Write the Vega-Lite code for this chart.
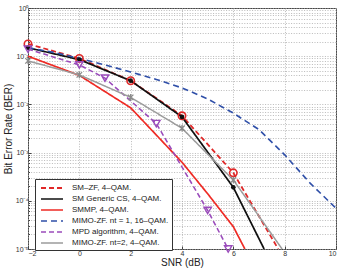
{
  "$schema": "https://vega.github.io/schema/vega-lite/v6.json",
  "autosize": "none",
  "width": 308,
  "height": 241,
  "padding": {"left": 28, "top": 8, "right": 4, "bottom": 22},
  "background": "white",
  "config": {
    "font": "Liberation Sans",
    "view": {"stroke": "#444", "strokeWidth": 1}
  },
  "data": {
    "values": [
      {"s": "SM–ZF, 4–QAM.", "snr": -2, "ber": 0.18},
      {"s": "SM–ZF, 4–QAM.", "snr": 0, "ber": 0.09},
      {"s": "SM–ZF, 4–QAM.", "snr": 2, "ber": 0.031},
      {"s": "SM–ZF, 4–QAM.", "snr": 4, "ber": 0.0058},
      {"s": "SM–ZF, 4–QAM.", "snr": 6, "ber": 0.00038},
      {"s": "SM–ZF, 4–QAM.", "snr": 7.75, "ber": 0.00001},
      {"s": "SM Generic CS, 4–QAM.", "snr": -2, "ber": 0.15},
      {"s": "SM Generic CS, 4–QAM.", "snr": 0, "ber": 0.085},
      {"s": "SM Generic CS, 4–QAM.", "snr": 2, "ber": 0.031},
      {"s": "SM Generic CS, 4–QAM.", "snr": 4, "ber": 0.0055},
      {"s": "SM Generic CS, 4–QAM.", "snr": 6, "ber": 0.00019},
      {"s": "SM Generic CS, 4–QAM.", "snr": 7.2, "ber": 0.00001},
      {"s": "SMMP, 4–QAM.", "snr": -2, "ber": 0.1},
      {"s": "SMMP, 4–QAM.", "snr": 0, "ber": 0.04},
      {"s": "SMMP, 4–QAM.", "snr": 2, "ber": 0.0085},
      {"s": "SMMP, 4–QAM.", "snr": 4, "ber": 0.00063},
      {"s": "SMMP, 4–QAM.", "snr": 5, "ber": 0.00014},
      {"s": "SMMP, 4–QAM.", "snr": 6, "ber": 0.000029},
      {"s": "SMMP, 4–QAM.", "snr": 6.45, "ber": 0.00001},
      {"s": "MIMO-ZF. nt = 1, 16–QAM.", "snr": -2, "ber": 0.15},
      {"s": "MIMO-ZF. nt = 1, 16–QAM.", "snr": -1, "ber": 0.12},
      {"s": "MIMO-ZF. nt = 1, 16–QAM.", "snr": 0, "ber": 0.09},
      {"s": "MIMO-ZF. nt = 1, 16–QAM.", "snr": 1, "ber": 0.066},
      {"s": "MIMO-ZF. nt = 1, 16–QAM.", "snr": 2, "ber": 0.047},
      {"s": "MIMO-ZF. nt = 1, 16–QAM.", "snr": 3, "ber": 0.033},
      {"s": "MIMO-ZF. nt = 1, 16–QAM.", "snr": 4, "ber": 0.022},
      {"s": "MIMO-ZF. nt = 1, 16–QAM.", "snr": 5, "ber": 0.013},
      {"s": "MIMO-ZF. nt = 1, 16–QAM.", "snr": 6, "ber": 0.0066},
      {"s": "MIMO-ZF. nt = 1, 16–QAM.", "snr": 7, "ber": 0.003},
      {"s": "MIMO-ZF. nt = 1, 16–QAM.", "snr": 8, "ber": 0.0009},
      {"s": "MIMO-ZF. nt = 1, 16–QAM.", "snr": 9, "ber": 0.00023},
      {"s": "MIMO-ZF. nt = 1, 16–QAM.", "snr": 10, "ber": 0.00007},
      {"s": "MPD algorithm, 4–QAM.", "snr": -2, "ber": 0.14},
      {"s": "MPD algorithm, 4–QAM.", "snr": 0, "ber": 0.066},
      {"s": "MPD algorithm, 4–QAM.", "snr": 1, "ber": 0.035},
      {"s": "MPD algorithm, 4–QAM.", "snr": 3, "ber": 0.004},
      {"s": "MPD algorithm, 4–QAM.", "snr": 5, "ber": 0.000063},
      {"s": "MPD algorithm, 4–QAM.", "snr": 5.8, "ber": 0.00001},
      {"s": "MIMO-ZF. nt=2, 4–QAM.", "snr": -2, "ber": 0.08},
      {"s": "MIMO-ZF. nt=2, 4–QAM.", "snr": 0, "ber": 0.041},
      {"s": "MIMO-ZF. nt=2, 4–QAM.", "snr": 2, "ber": 0.014},
      {"s": "MIMO-ZF. nt=2, 4–QAM.", "snr": 4, "ber": 0.0032},
      {"s": "MIMO-ZF. nt=2, 4–QAM.", "snr": 6, "ber": 0.00027},
      {"s": "MIMO-ZF. nt=2, 4–QAM.", "snr": 7.9, "ber": 0.00001}
    ]
  },
  "encoding": {
    "x": {
      "field": "snr", "type": "quantitative",
      "scale": {"domain": [-2, 10], "nice": false, "zero": false},
      "axis": {
        "title": "SNR (dB)", "titleFontSize": 10, "titleFontWeight": "normal", "titlePadding": 1, "titleColor": "#222",
        "values": [-2, 0, 2, 4, 6, 8, 10],
        "labelFontSize": 7, "labelColor": "#333", "labelPadding": 3,
        "domain": false, "tickSize": -3, "tickColor": "#444",
        "grid": true, "gridColor": "#a8a8a8", "gridDash": [1, 1.6], "gridWidth": 0.8
      }
    },
    "y": {
      "field": "ber", "type": "quantitative",
      "scale": {"type": "log", "domain": [0.00001, 1], "nice": false},
      "axis": {
        "title": "Bit Error Rate (BER)", "titleFontSize": 10, "titleFontWeight": "normal", "titlePadding": 2, "titleColor": "#222",
        "values": [0.00001, 0.00002, 0.00003, 0.00004, 0.00005, 0.00006, 0.00007, 0.00008, 0.00009,
                   0.0001, 0.0002, 0.0003, 0.0004, 0.0005, 0.0006, 0.0007, 0.0008, 0.0009,
                   0.001, 0.002, 0.003, 0.004, 0.005, 0.006, 0.007, 0.008, 0.009,
                   0.01, 0.02, 0.03, 0.04, 0.05, 0.06, 0.07, 0.08, 0.09,
                   0.1, 0.2, 0.3, 0.4, 0.5, 0.6, 0.7, 0.8, 0.9, 1],
        "labelExpr": "abs(log(datum.value)/LN10 - round(log(datum.value)/LN10)) < 0.001 ? '10' + (round(log(datum.value)/LN10) == 0 ? '⁰' : '⁻' + ['⁰','¹','²','³','⁴','⁵'][-round(log(datum.value)/LN10)]) : ''",
        "labelOverlap": false, "labelBound": false,
        "labelFontSize": 7, "labelColor": "#333", "labelPadding": 3,
        "domain": false,
        "tickSize": {"condition": {"test": "abs(log(datum.value)/LN10 - round(log(datum.value)/LN10)) < 0.001", "value": -3}, "value": -1.5},
        "tickColor": "#444",
        "grid": true, "gridColor": "#a8a8a8", "gridDash": [1, 1.6], "gridWidth": 0.8
      }
    }
  },
  "layer": [
    {
      "mark": {"type": "line", "clip": true},
      "encoding": {
        "color": {
          "field": "s", "type": "nominal",
          "scale": {
            "domain": ["SM–ZF, 4–QAM.", "SM Generic CS, 4–QAM.", "SMMP, 4–QAM.", "MIMO-ZF. nt = 1, 16–QAM.", "MPD algorithm, 4–QAM.", "MIMO-ZF. nt=2, 4–QAM."],
            "range": ["#e02828", "#111111", "#ee2a24", "#2f4fa8", "#9a4bbb", "#9c9c9c"]
          },
          "legend": {
            "title": null, "orient": "none", "legendX": 7, "legendY": 171,
            "symbolType": "M-2.2,0L2.2,0", "symbolSize": 100, "symbolStrokeWidth": 2,
            "symbolOffset": 8,
            "labelFontSize": 8, "labelColor": "#222", "labelOffset": 14,
            "rowPadding": 1, "padding": 3,
            "fillColor": "white", "strokeColor": "#333"
          }
        },
        "strokeDash": {
          "field": "s", "type": "nominal",
          "scale": {
            "domain": ["SM–ZF, 4–QAM.", "SM Generic CS, 4–QAM.", "SMMP, 4–QAM.", "MIMO-ZF. nt = 1, 16–QAM.", "MPD algorithm, 4–QAM.", "MIMO-ZF. nt=2, 4–QAM."],
            "range": [[5, 3], [1, 0], [1, 0], [6, 4], [5, 3], [1, 0]]
          }
        },
        "strokeWidth": {
          "field": "s", "type": "nominal",
          "scale": {
            "domain": ["SM–ZF, 4–QAM.", "SM Generic CS, 4–QAM.", "SMMP, 4–QAM.", "MIMO-ZF. nt = 1, 16–QAM.", "MPD algorithm, 4–QAM.", "MIMO-ZF. nt=2, 4–QAM."],
            "range": [1.8, 1.5, 2.2, 1.8, 1.5, 2.2]
          }
        }
      }
    },
    {
      "transform": [{"filter": "datum.s == 'SM–ZF, 4–QAM.' && datum.snr % 2 == 0"}],
      "mark": {"type": "point", "shape": "circle", "filled": false, "color": "#e02828", "size": 55, "strokeWidth": 1.6, "opacity": 1}
    },
    {
      "transform": [{"filter": "datum.s == 'SM Generic CS, 4–QAM.' && datum.snr % 2 == 0"}],
      "mark": {"type": "point", "shape": "circle", "filled": true, "color": "#111111", "size": 22, "opacity": 1}
    },
    {
      "transform": [{"filter": "datum.s == 'MPD algorithm, 4–QAM.'"}],
      "mark": {"type": "point", "shape": "triangle-down", "filled": false, "color": "#9a4bbb", "size": 55, "strokeWidth": 1.4, "opacity": 1}
    },
    {
      "transform": [{"filter": "datum.s == 'MIMO-ZF. nt=2, 4–QAM.' && datum.snr % 2 == 0"}],
      "mark": {"type": "point", "shape": "M-1,-1L1,1M-1,1L1,-1M0,-1.2L0,1.2", "filled": false, "color": "#8a8a8a", "size": 30, "strokeWidth": 1.3, "opacity": 1}
    }
  ]
}
